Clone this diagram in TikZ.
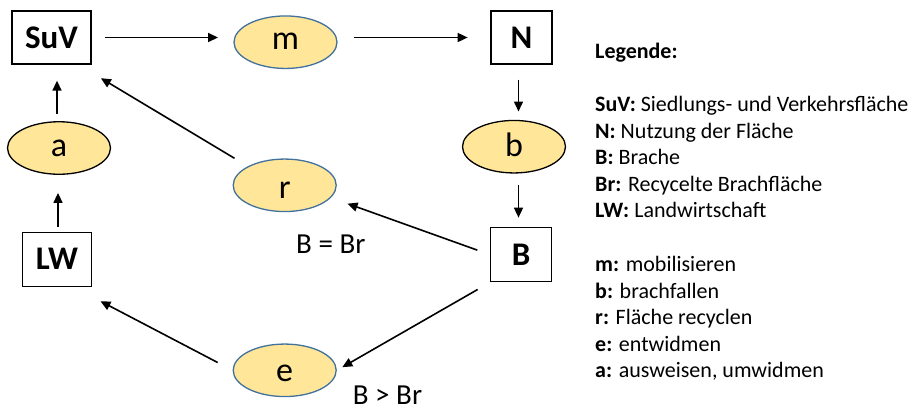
\documentclass[tikz,border=0pt]{standalone}
\usepackage{fontspec}
\setmainfont{Carlito}
\usetikzlibrary{arrows.meta,shapes.geometric,calc}
\definecolor{ellfill}{HTML}{FFE699}
\definecolor{ellblue}{HTML}{41719C}
\begin{document}
\begin{tikzpicture}[x=1pt,y=-1pt,
  box/.style={draw, line width=1.3pt, inner sep=0pt, font=\fontsize{33}{33}\selectfont\bfseries},
  ell/.style={ellipse, draw=ellblue, fill=ellfill, line width=1.3pt, inner sep=0pt,
    minimum width=103pt, minimum height=52.5pt, text depth=0pt, font=\fontsize{34}{34}\selectfont},
  ellk/.style={ell, draw=black},
  arr/.style={-{Triangle[length=10pt,width=9pt]}, line width=1.6pt},
  cond/.style={anchor=base, inner sep=0pt, font=\fontsize{29}{29}\selectfont},
  leg/.style={anchor=base west, inner sep=0pt, font=\fontsize{22}{22}\selectfont}
]
\useasboundingbox (0,0) rectangle (915,410);

% boxes
\node[box, minimum width=79pt, minimum height=53pt] (SuV) at (51.5,37.5) {SuV};
\node[box, minimum width=61pt, minimum height=53pt] (N) at (521.5,37.5) {N};
\node[box, minimum width=61pt, minimum height=54pt] (B) at (521.2,254.7) {B};
\node[box, minimum width=69pt, minimum height=54pt] (LW) at (57,259.2) {LW};

% ellipses
\node[ell, text height=14pt] (m) at (285.5,42.2) {m};
\node[ellk, text height=17pt] (a) at (59,148) {a};
\node[ell, text height=26pt] (r) at (284.7,185.3) {r};
\node[ell, text height=23pt] (e) at (284.7,370.3) {e};
\node[ellk, text height=20pt] (b) at (514,146.7) {b};

% connectors
\draw[arr, shorten <=13pt, shorten >=15.3pt] (SuV.east) -- (m.west |- SuV.east);
\draw[arr, shorten <=16.6pt, shorten >=22.7pt] (m.east |- N.west) -- (N.west);
\draw[arr, shorten <=15pt, shorten >=8.3pt] ([xshift=-3pt]N.south) -- ([xshift=-3pt]N.south |- b.north);
\draw[arr, shorten <=11.7pt, shorten >=9.4pt] ([xshift=-3pt]N.south |- b.south) -- ([xshift=-3pt]N.south |- B.north);
\draw[arr, shorten <=13.5pt, shorten >=17.6pt] (B.west) -- (r.-15);
\draw[arr, shorten <=14.3pt, shorten >=6.3pt] (B.south west) -- (e.east);
\draw[arr, shorten <=15.5pt, shorten >=10.8pt] (r.north west) -- ([yshift=-8pt]SuV.south east);
\draw[arr, shorten <=16.8pt, shorten >=9.4pt] (e.west) -- ([yshift=-10pt]LW.south east);
\draw[arr, shorten <=5pt, shorten >=18pt] ([xshift=-1pt]a.south |- LW.north) -- ([xshift=-1pt]a.south);
\draw[arr, shorten <=6.7pt, shorten >=16pt] ([xshift=-2pt]a.north) -- ([xshift=-2pt]a.north |- SuV.south);

% conditions
\node[cond] (c1) at (330.8,253.3) {B = Br};
\node[cond] (c2) at (387.5,404.5) {B > Br};

% legend
\node[leg] (l0) at (595,58.3) {\bfseries Legende:};
\node[leg] (l1) at (595,111.7) {\textbf{SuV:} Siedlungs- und Verkehrsfläche};
\node[leg] (l2) at (595,138.3) {\textbf{N:} Nutzung der Fläche};
\node[leg] (l3) at (595,164.8) {\textbf{B:} Brache};
\node[leg] (l4) at (595,191.2) {\textbf{Br:} Recycelte Brachfläche};
\node[leg] (l5) at (595,217.5) {\textbf{LW:} Landwirtschaft};
\node[leg] (l6) at (595,271.7) {\textbf{m:} mobilisieren};
\node[leg] (l7) at (595,298.2) {\textbf{b:} brachfallen};
\node[leg] (l8) at (595,324.7) {\textbf{r:} Fläche recyclen};
\node[leg] (l9) at (595,351.2) {\textbf{e:} entwidmen};
\node[leg] (l10) at (595,377.7) {\textbf{a:} ausweisen, umwidmen};
\end{tikzpicture}
\end{document}
